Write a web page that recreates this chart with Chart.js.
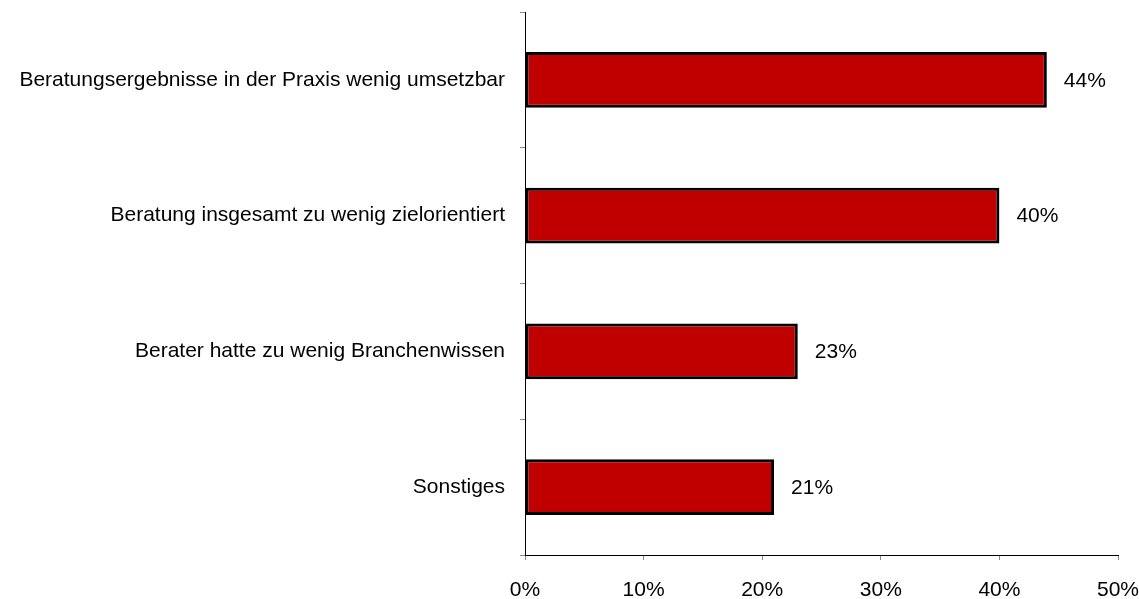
<!DOCTYPE html>
<html>
<head>
<meta charset="utf-8">
<script src="https://cdn.jsdelivr.net/npm/chart.js@4.4.0/dist/chart.umd.min.js"></script>
<style>
  html, body { margin: 0; padding: 0; background: #fff; }
  #wrap { width: 1139px; height: 599px; }
</style>
</head>
<body>
<div id="wrap"><canvas id="myChart" width="1139" height="599"></canvas></div>
<script>
// data
const categories = [
  'Beratungsergebnisse in der Praxis wenig umsetzbar',
  'Beratung insgesamt zu wenig zielorientiert',
  'Berater hatte zu wenig Branchenwissen',
  'Sonstiges'
];
const values = [44, 40, 23, 21];
const xTicks = [0, 10, 20, 30, 40, 50];

const FONT = '"Liberation Sans", Arial, sans-serif';

// draws "44%" etc. right of each bar
const valueLabels = {
  id: 'valueLabels',
  afterDatasetsDraw(chart) {
    const ctx = chart.ctx;
    const meta = chart.getDatasetMeta(0);
    ctx.save();
    ctx.font = '21px ' + FONT;
    ctx.fillStyle = '#000';
    ctx.textAlign = 'left';
    ctx.textBaseline = 'middle';
    meta.data.forEach((bar, i) => {
      ctx.fillText(values[i] + '%', bar.x + 17, bar.y + 1);
    });
    ctx.restore();
  }
};

new Chart(document.getElementById('myChart'), {
  type: 'bar',
  data: {
    labels: categories,
    datasets: [{
      data: values,
      backgroundColor: '#C00000',
      borderColor: '#000',
      borderWidth: 3,
      borderSkipped: false,
      categoryPercentage: 1,
      barPercentage: 0.41
    }]
  },
  options: {
    indexAxis: 'y',
    responsive: false,
    animation: false,
    layout: { padding: { top: 12, right: 21, left: 0, bottom: 0 } },
    plugins: {
      legend: { display: false },
      tooltip: { enabled: false }
    },
    scales: {
      x: {
        min: 0,
        max: 50,
        afterBuildTicks: (scale) => { scale.ticks = xTicks.map(v => ({ value: v })); },
        afterFit: (scale) => {
          scale.height = 44;
          scale.paddingLeft = 0;
          scale.paddingRight = 0;
        },
        border: { color: '#000', width: 1 },
        grid: { drawOnChartArea: false, drawTicks: true, tickLength: 5, color: '#888' },
        ticks: {
          padding: 18,
          color: '#000',
          font: { family: FONT, size: 21 },
          callback: (v) => v + '%'
        }
      },
      y: {
        afterFit: (scale) => {
          scale.width = 525;
          scale.paddingTop = 0;
          scale.paddingBottom = 0;
        },
        border: { color: '#000', width: 1 },
        grid: { drawOnChartArea: false, drawTicks: true, tickLength: 5, color: '#888', offset: true },
        ticks: {
          padding: 15,
          color: '#000',
          font: { family: FONT, size: 21 }
        }
      }
    }
  },
  plugins: [valueLabels]
});
</script>
</body>
</html>
